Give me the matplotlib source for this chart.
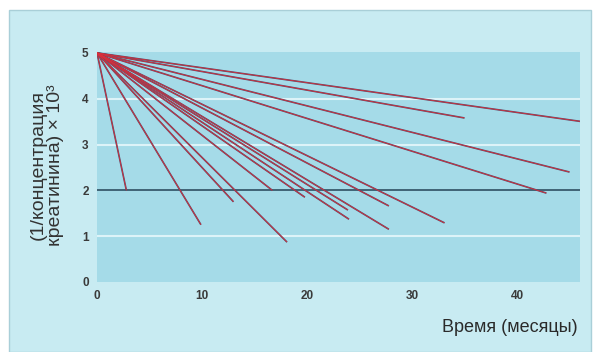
import matplotlib
matplotlib.use("Agg")
import matplotlib.pyplot as plt
from matplotlib.patches import Rectangle

plt.rcParams['font.family'] = ['Liberation Sans', 'DejaVu Sans']

# Reciprocal creatinine decline: every patient starts at 5 at month 0
start_month = 0
start_value = 5.0
end_months = [2.8, 9.9, 13.0, 16.7, 18.1, 19.8, 23.9, 24.0, 27.8, 27.8,
              33.1, 35.0, 42.8, 45.0, 46.2]
end_values = [2.0, 1.25, 1.75, 2.0, 0.87, 1.85, 1.57, 1.37, 1.66, 1.15,
              1.29, 3.58, 1.94, 2.40, 3.50]

threshold = 2.0
x_ticks = [0, 10, 20, 30, 40]
y_ticks = [0, 1, 2, 3, 4, 5]
grid_levels = [1, 3, 4]

panel_color = '#c8ebf2'
plot_color = '#a5dbe8'

fig = plt.figure(figsize=(6.01, 3.52), dpi=100)
fig.patch.set_facecolor('white')

# Light outer panel behind the plot
fig.patches.append(Rectangle((9 / 601, 0), 582 / 601, 1 - 10 / 352,
                             transform=fig.transFigure, facecolor=panel_color,
                             edgecolor='#a9cfd8', linewidth=1.0, zorder=-5))

ax = fig.add_axes([97 / 601, 1 - 282 / 352, 483 / 601, 230 / 352])
ax.set_zorder(2)
ax.set_facecolor(plot_color)
ax.set_xlim(0, 46.0)
ax.set_ylim(0, 5.02)
for s in ax.spines.values():
    s.set_visible(False)

for g in grid_levels:
    ax.axhline(g, color='#ddf3f8', linewidth=1.5, zorder=1)

ax.axhline(threshold, color='#2f4f62', linewidth=1.2, zorder=2)

for xe, ye in zip(end_months, end_values):
    ax.plot([start_month, xe], [start_value, ye], color='#5a4a68',
            linewidth=1.2, solid_capstyle='butt', zorder=3)
    ax.plot([start_month, xe], [start_value, ye], color='#dc2f3a',
            linewidth=0.55, solid_capstyle='butt', zorder=4)

ax.set_xticks(x_ticks)
ax.set_yticks(y_ticks)
ax.tick_params(length=0, labelsize=8.5, labelcolor='#3a3a3a', pad=6)
for lab in ax.get_xticklabels() + ax.get_yticklabels():
    lab.set_fontweight('bold')

fig.text(47 / 601, 1 - 165 / 352, '(1/концентрация\nкреатинина) × 10³',
         rotation=90, ha='center', va='center', fontsize=14,
         color='#333333', linespacing=1.05, zorder=3)
fig.text(578 / 601, 1 - 327 / 352, 'Время (месяцы)', ha='right',
         va='center', fontsize=13, color='#2a2a2a', zorder=3)

fig.savefig('out.png', dpi=100)
